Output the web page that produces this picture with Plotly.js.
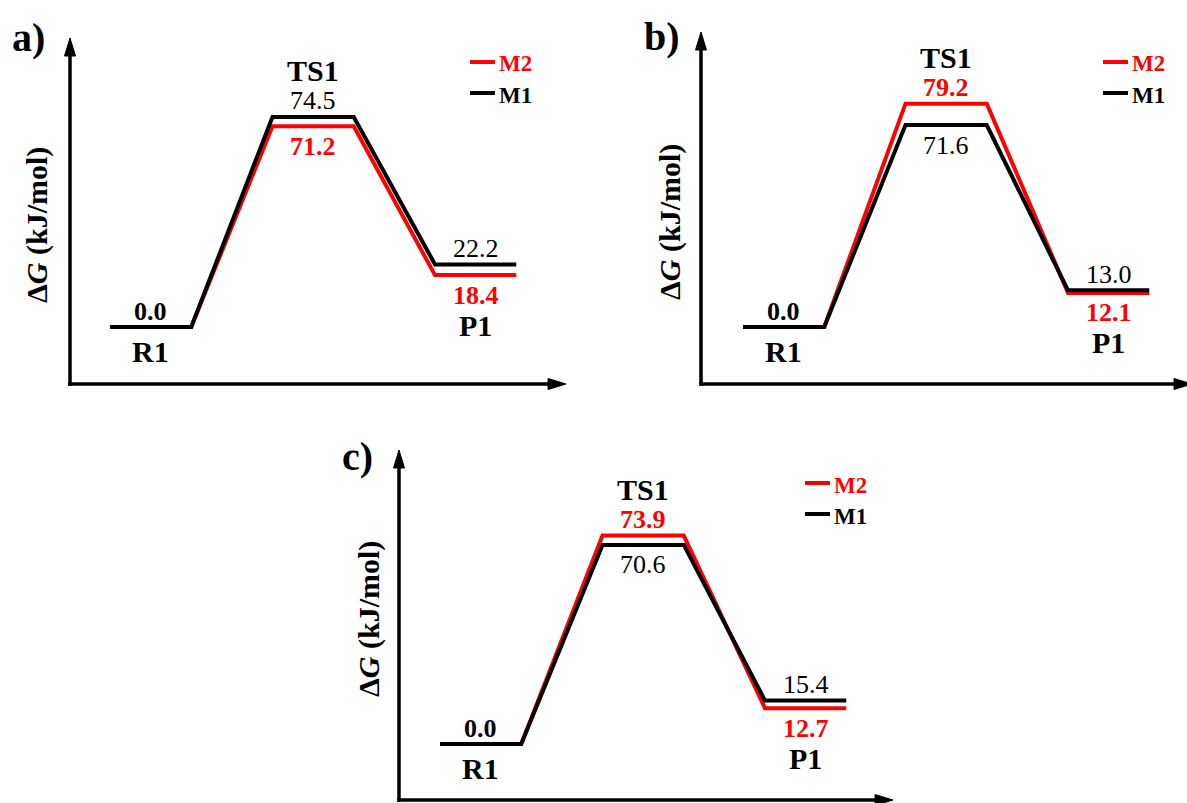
<!DOCTYPE html>
<html><head><meta charset="utf-8">
<script src="https://cdn.plot.ly/plotly-3.0.1.min.js"></script>
<style>
html,body{margin:0;padding:0;background:#fff}
#chart{width:1187px;height:803px}
#chart svg text, #chart svg tspan { font-family: "Liberation Serif", "Times New Roman", serif !important; }
</style>
</head><body><div id="chart"></div>
<script>
// ---- data ----
const stages = ['R1', 'TS1', 'P1'];
const seriesNames = ['M1', 'M2'];
const panelNames = ['a)', 'b)', 'c)'];
const m1A = [0.0, 74.5, 22.2];
const m2A = [0.0, 71.2, 18.4];
const m1B = [0.0, 71.6, 13.0];
const m2B = [0.0, 79.2, 12.1];
const m1C = [0.0, 70.6, 15.4];
const m2C = [0.0, 73.9, 12.7];
const yTitle = '<b>\u0394<i>G</i> (kJ/mol)</b>';

// ---- layout geometry (pixels) ----
const W = 1187, H = 803;
const UX = 81.25, UY = 2.82;
const FONT = 'Liberation Serif';
const BLACK = '#000000', RED = '#ff0000';
const geom = [
  {x0: 110, y0: 327, left: 70,  bottom: 384, top: 38,  right: 566,  letter: [28, 38],  title: [37, 225],  leg: [470, 64]},
  {x0: 743, y0: 327, left: 701, bottom: 384, top: 32,  right: 1192, letter: [662, 37], title: [670, 222], leg: [1103, 64]},
  {x0: 440, y0: 744, left: 399, bottom: 800, top: 450, right: 893,  letter: [357, 456], title: [369, 619], leg: [805, 485]}
];
const panelData = [[m1A, m2A], [m1B, m2B], [m1C, m2C]];
const colors = {M1: BLACK, M2: RED};

const px = x => x / W;
const py = y => 1 - y / H;

function stepX(n) { const xs = []; for (let i = 0; i < n; i++) { xs.push(2 * i, 2 * i + 1); } return xs; }
function stepY(v) { const ys = []; v.forEach(a => { ys.push(a, a); }); return ys; }

const traces = [], annotations = [], shapes = [];
const layout = {
  width: W, height: H,
  margin: {l: 0, r: 0, t: 0, b: 0},
  paper_bgcolor: '#ffffff', plot_bgcolor: 'rgba(0,0,0,0)',
  showlegend: false, hovermode: false
};

panelData.forEach(([m1, m2], p) => {
  const g = geom[p];
  const sfx = p ? String(p + 1) : '';
  const xr = 'x' + sfx, yr = 'y' + sfx;
  const right = Math.min(g.right, W);
  layout['xaxis' + sfx] = {
    domain: [px(g.left), px(right)],
    range: [(g.left - g.x0) / UX, (right - g.x0) / UX],
    visible: false, fixedrange: true, anchor: yr
  };
  layout['yaxis' + sfx] = {
    domain: [py(g.bottom), py(g.top)],
    range: [(g.y0 - g.bottom) / UY, (g.y0 - g.top) / UY],
    visible: false, fixedrange: true, anchor: xr
  };

  // profiles: M2 (red) below, M1 (black) on top
  [['M2', m2], ['M1', m1]].forEach(([name, vals]) => {
    traces.push({
      type: 'scatter', mode: 'lines', name: name,
      x: stepX(vals.length), y: stepY(vals),
      xaxis: xr, yaxis: yr,
      line: {color: colors[name], width: 4},
      hoverinfo: 'skip'
    });
  });

  // value + stage labels
  stages.forEach((st, i) => {
    const xc = 2 * i + 0.5;
    const a = m1[i], b = m2[i];
    const addText = (val, txt, color, bold, size, shift) => {
      annotations.push({
        xref: xr, yref: yr, x: xc, y: val, yshift: shift,
        text: bold ? '<b>' + txt + '</b>' : txt, showarrow: false,
        font: {family: FONT, size: size, color: color},
        xanchor: 'center', yanchor: 'middle'
      });
    };
    if (a === b) {
      addText(a, a.toFixed(1), BLACK, true, 26, 16);
      addText(a, st, BLACK, true, 30, -24);
    } else {
      const hi = a > b ? {v: a, c: BLACK, bold: false} : {v: b, c: RED, bold: true};
      const lo = a > b ? {v: b, c: RED, bold: true} : {v: a, c: BLACK, bold: false};
      addText(hi.v, hi.v.toFixed(1), hi.c, hi.bold, 26, 16);
      addText(lo.v, lo.v.toFixed(1), lo.c, lo.bold, 26, -20);
      if (i === 1) addText(hi.v, st, BLACK, true, 30, 46);
      else addText(lo.v, st, BLACK, true, 30, -50);
    }
  });

  // axes with arrows
  const lw = 3.5, al = 18, aw = 5.5;
  shapes.push({type: 'line', xref: 'paper', yref: 'paper',
    x0: px(g.left), y0: py(g.bottom + lw / 2), x1: px(g.left), y1: py(g.top + al - 2),
    line: {color: BLACK, width: lw}});
  shapes.push({type: 'line', xref: 'paper', yref: 'paper',
    x0: px(g.left - lw / 2), y0: py(g.bottom), x1: px(g.right - al + 2), y1: py(g.bottom),
    line: {color: BLACK, width: lw}});
  shapes.push({type: 'path', xref: 'paper', yref: 'paper',
    path: `M ${px(g.left)} ${py(g.top)} L ${px(g.left - aw)} ${py(g.top + al)} L ${px(g.left + aw)} ${py(g.top + al)} Z`,
    fillcolor: BLACK, line: {color: BLACK, width: 1}});
  shapes.push({type: 'path', xref: 'paper', yref: 'paper',
    path: `M ${px(g.right)} ${py(g.bottom)} L ${px(g.right - al)} ${py(g.bottom - aw)} L ${px(g.right - al)} ${py(g.bottom + aw)} Z`,
    fillcolor: BLACK, line: {color: BLACK, width: 1}});

  // panel letter
  annotations.push({xref: 'paper', yref: 'paper', x: px(g.letter[0]), y: py(g.letter[1]),
    text: '<b>' + panelNames[p] + '</b>', showarrow: false,
    font: {family: FONT, size: 40, color: BLACK}, xanchor: 'center', yanchor: 'middle'});
  // y title
  annotations.push({xref: 'paper', yref: 'paper', x: px(g.title[0]), y: py(g.title[1]),
    text: yTitle, showarrow: false, textangle: -90,
    font: {family: FONT, size: 30, color: BLACK}, xanchor: 'center', yanchor: 'middle'});

  // legend (M2 then M1)
  ['M2', 'M1'].forEach((name, k) => {
    const ly = g.leg[1] + k * 31;
    shapes.push({type: 'line', xref: 'paper', yref: 'paper',
      x0: px(g.leg[0]), x1: px(g.leg[0] + 25), y0: py(ly - 2), y1: py(ly - 2),
      line: {color: colors[name], width: 4}});
    annotations.push({xref: 'paper', yref: 'paper', x: px(g.leg[0] + 27), y: py(ly),
      text: '<b>' + name + '</b>', showarrow: false,
      font: {family: FONT, size: 23, color: colors[name]}, xanchor: 'left', yanchor: 'middle'});
  });
});

layout.annotations = annotations;
layout.shapes = shapes;
Plotly.newPlot('chart', traces, layout, {displayModeBar: false});
</script>
</body></html>
